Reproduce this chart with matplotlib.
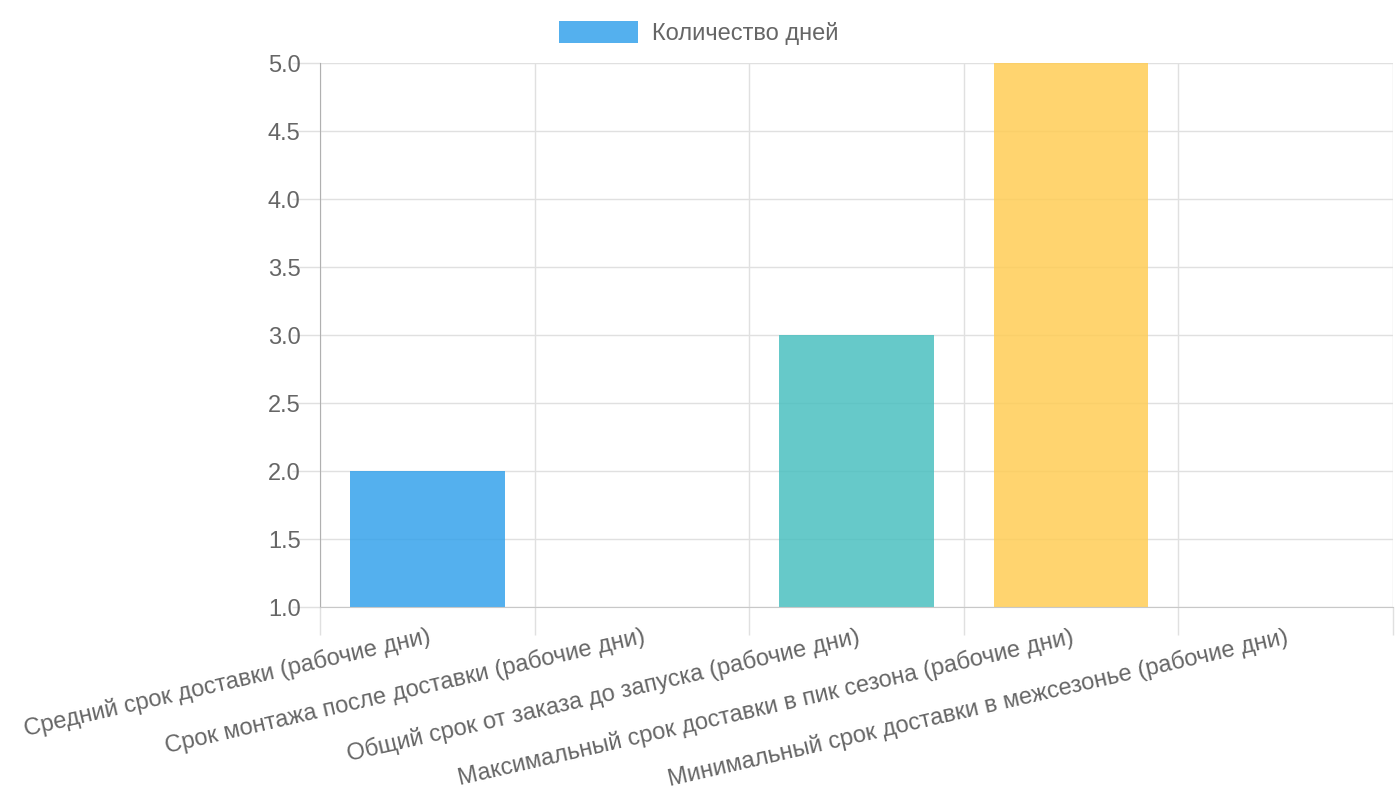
import numpy as np
import matplotlib.pyplot as plt
from matplotlib.patches import Patch

plt.rcParams['font.family'] = ['Liberation Sans', 'DejaVu Sans']

categories = [
    'Средний срок доставки (рабочие дни)',
    'Срок монтажа после доставки (рабочие дни)',
    'Общий срок от заказа до запуска (рабочие дни)',
    'Максимальный срок доставки в пик сезона (рабочие дни)',
    'Минимальный срок доставки в межсезонье (рабочие дни)',
]
values = [2, 1, 3, 5, 1]
colors = ['#36A2EB', '#FF6384', '#4BC0C0', '#FFCD56', '#9966FF']
series_name = 'Количество дней'

fig = plt.figure(figsize=(14, 8), dpi=100)
ax = fig.add_axes([320 / 1400, 1 - 607 / 800, 1073 / 1400, 544 / 800])

x = np.arange(len(categories))
ax.bar(x, values, width=0.72, color=colors, alpha=0.85, zorder=2)

ax.set_xlim(-0.5, len(categories) - 0.5)
ax.set_ylim(1, 5)
yt = np.arange(1, 5.01, 0.5)
ax.set_yticks(yt)
ax.set_yticklabels([f'{v:.1f}' for v in yt])

ax.set_xticks(x)
ax.set_xticklabels(categories, rotation=13, ha='right', rotation_mode='anchor')
ax.set_xticks(np.arange(-0.5, len(categories)), minor=True)
ax.tick_params(axis='x', which='major', length=0, pad=13, labelsize=17, labelcolor='#666666')
ax.tick_params(axis='x', which='minor', length=20, color='#e0e0e0', width=1)
ax.tick_params(axis='y', length=20, color='#e0e0e0', width=1, labelsize=17,
               labelcolor='#666666', pad=-6)

ax.grid(True, axis='y', color='#e0e0e0', linewidth=1, zorder=0)
ax.grid(True, axis='x', which='minor', color='#e0e0e0', linewidth=1, zorder=0)
ax.set_axisbelow(True)

for s in ['top', 'right']:
    ax.spines[s].set_visible(False)
ax.spines['left'].set_color('#b0b0b0')
ax.spines['bottom'].set_color('#c8c8c8')

handle = Patch(facecolor=colors[0], alpha=0.85)
fig.legend([handle], [series_name], loc='center', bbox_to_anchor=(699 / 1400, 1 - 33 / 800),
           frameon=False, fontsize=17, handlelength=3.35, handleheight=1.1,
           handletextpad=0.6, labelcolor='#666666')

fig.savefig('out.png', dpi=100)
